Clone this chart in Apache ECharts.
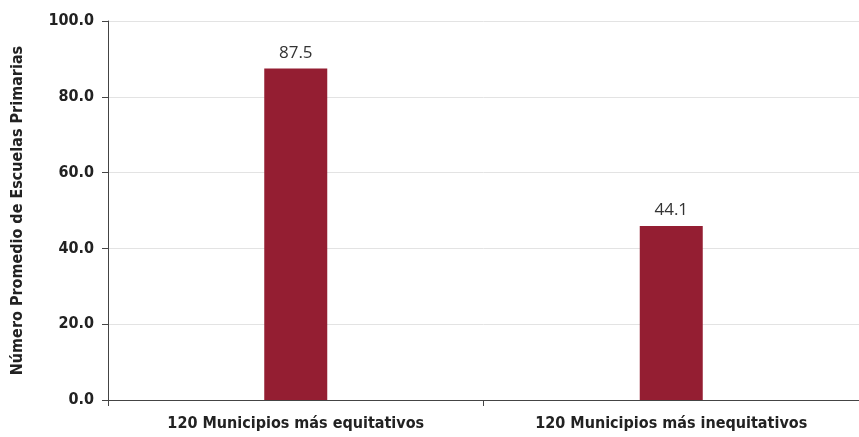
<!DOCTYPE html>
<html><head><meta charset="utf-8">
<script src="https://cdn.jsdelivr.net/npm/echarts@6/dist/echarts.min.js"></script>
<style>html,body{margin:0;padding:0;background:#fff}#c{width:859px;height:437px}</style>
</head><body><div id="c"></div>
<script>
const categories = ["120 Municipios más equitativos", "120 Municipios más inequitativos"];
const barValues = [87.5, 45.9];
const barLabels = ["87.5", "44.1"];
const yTicks = [0, 20, 40, 60, 80, 100];
const yAxisTitle = "Número Promedio de Escuelas Primarias";

const narrow = '"Liberation Sans Narrow", "DejaVu Sans Condensed", sans-serif';
const chart = echarts.init(document.getElementById('c'));
chart.setOption({
  animation: false,
  grid: { left: 108, top: 21, width: 756, height: 379, containLabel: false },
  xAxis: {
    type: 'category', data: categories,
    axisLine: { lineStyle: { color: '#444', width: 1 } },
    axisTick: { show: true, alignWithLabel: false, length: 6, lineStyle: { color: '#444' } },
    axisLabel: { color: '#222', fontFamily: narrow, fontWeight: 'bold', fontSize: 16, margin: 16 }
  },
  yAxis: {
    type: 'value', min: yTicks[0], max: yTicks[yTicks.length - 1], interval: 20,
    name: yAxisTitle, nameLocation: 'middle', nameGap: 82, nameRotate: 90,
    nameTextStyle: { color: '#222', fontFamily: narrow, fontWeight: 'bold', fontSize: 16 },
    axisLine: { show: true, lineStyle: { color: '#444', width: 1 } },
    axisTick: { show: true, length: 6, lineStyle: { color: '#444' } },
    splitLine: { lineStyle: { color: '#e3e3e3', width: 1 } },
    axisLabel: { color: '#222', fontFamily: narrow, fontWeight: 'bold', fontSize: 16, margin: 14,
      formatter: v => v.toFixed(1) }
  },
  series: [{
    type: 'bar', data: barValues, barWidth: 63,
    itemStyle: { color: '#941e32' },
    label: { show: true, position: 'top', distance: 7, color: '#333', fontFamily: '"Open Sans", sans-serif', fontSize: 17,
      formatter: p => barLabels[p.dataIndex] }
  }]
});
</script></body></html>
